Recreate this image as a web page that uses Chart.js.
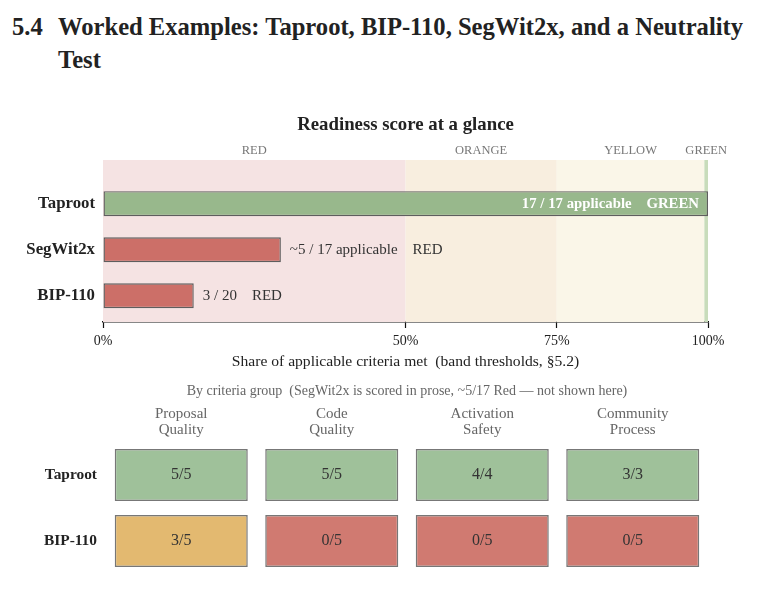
<!DOCTYPE html>
<html>
<head>
<meta charset="utf-8">
<script src="https://cdn.jsdelivr.net/npm/chart.js@4.4.1/dist/chart.umd.min.js"></script>
<style>
  body { margin:0; background:#fff; width:765px; height:598px; position:relative; overflow:hidden; font-family:"Liberation Serif", serif; color:#222; }
  .sec { position:absolute; left:12px; top:10px; font-size:24.6px; font-weight:bold; line-height:33px; }
  .head { position:absolute; left:58px; top:10px; width:705px; font-size:24.6px; font-weight:bold; line-height:33px; }
  #top { position:absolute; left:0; top:105px; }
  #grid { position:absolute; left:0; top:375px; }
</style>
</head>
<body>
<div class="sec">5.4</div>
<div class="head">Worked Examples: Taproot, BIP-110, SegWit2x, and a Neutrality Test</div>
<canvas id="top" width="765" height="266"></canvas>
<canvas id="grid" width="765" height="200"></canvas>
<script>
// Readiness bars
const proposals = ['Taproot', 'SegWit2x', 'BIP-110'];
const metShare = [1.0, 0.294, 0.15];
const barNotes = ['17 / 17 applicable', '~5 / 17 applicable', '3 / 20'];
const barBands = ['GREEN', 'RED', 'RED'];

// Band thresholds (share of criteria met)
const bandNames = ['RED', 'ORANGE', 'YELLOW', 'GREEN'];
const bandEdges = [0, 0.5, 0.75, 0.994, 1.0];
const bandFills = ['#f5e3e3', '#f8eedf', '#faf6e8', '#c8dcbb'];
const xTicks = [0, 0.5, 0.75, 1.0];

// Criteria-group grid
const groups = [['Proposal', 'Quality'], ['Code', 'Quality'], ['Activation', 'Safety'], ['Community', 'Process']];
const gridRows = ['Taproot', 'BIP-110'];
const gridMet = [[5, 5, 4, 3], [3, 0, 0, 0]];
const gridOf = [[5, 5, 4, 3], [5, 5, 5, 5]];

const FONT = '"Liberation Serif", serif';
const cellColor = {GREEN: '#9fc19a', ORANGE: '#e3b970', YELLOW: '#e8d98a', RED: '#d07a71'};

function bandOf(share) {
    let name = bandNames[0];
    bandNames.forEach((b, i) => { if (share >= bandEdges[i]) name = b; });
    return name;
}

function noPad(s) {
    s.paddingTop = 0; s.paddingBottom = 0; s.paddingLeft = 0; s.paddingRight = 0;
}

// titles centred over the plot area
function plotTitle(text, dy, font, color) {
    return {
        id: 'plotTitle',
        afterDraw(chart) {
            const {ctx, chartArea} = chart;
            ctx.save();
            ctx.font = font;
            ctx.fillStyle = color;
            ctx.textAlign = 'center';
            ctx.textBaseline = 'middle';
            ctx.fillText(text, (chartArea.left + chartArea.right) / 2, chartArea.top - dy);
            ctx.restore();
        }
    };
}

// background bands + band labels + bar notes
const bandPlugin = {
    id: 'bands',
    beforeDatasetsDraw(chart) {
        const {ctx, chartArea, scales} = chart;
        ctx.save();
        bandNames.forEach((b, i) => {
            let x0 = scales.x.getPixelForValue(bandEdges[i]);
            let x1 = scales.x.getPixelForValue(bandEdges[i + 1]);
            ctx.fillStyle = bandFills[i];
            ctx.fillRect(x0, chartArea.top, x1 - x0, chartArea.bottom - chartArea.top);
            ctx.fillStyle = '#777';
            ctx.font = '12.5px ' + FONT;
            ctx.textAlign = 'center';
            ctx.textBaseline = 'middle';
            ctx.fillText(b, (x0 + x1) / 2, chartArea.top - 9);
        });
        ctx.restore();
    },
    afterDatasetsDraw(chart) {
        const {ctx} = chart;
        const meta = chart.getDatasetMeta(0);
        ctx.save();
        ctx.textBaseline = 'middle';
        meta.data.forEach((bar, i) => {
            let text = barNotes[i] + '    ' + barBands[i];
            if (metShare[i] > 0.6) {
                ctx.font = 'bold 14.8px ' + FONT;
                ctx.fillStyle = '#fff';
                ctx.textAlign = 'right';
                ctx.fillText(text, bar.x - 9, bar.y);
            } else {
                ctx.font = '15px ' + FONT;
                ctx.fillStyle = '#333';
                ctx.textAlign = 'left';
                ctx.fillText(text, bar.x + 9, bar.y);
            }
        });
        ctx.restore();
    }
};

new Chart(document.getElementById('top'), {
    type: 'bar',
    data: {
        datasets: [{
            data: metShare.map((v, i) => ({x: v, y: i})),
            backgroundColor: metShare.map(v => bandOf(v) === 'GREEN' ? '#98b88c' : '#cc6f68'),
            borderColor: '#5e5e5e',
            borderWidth: 1.4,
            borderSkipped: false,
            inflateAmount: 0,
            barThickness: 25
        }]
    },
    options: {
        indexAxis: 'y',
        responsive: false,
        animation: false,
        layout: {padding: {right: 57, left: 0, top: 55, bottom: 0}},
        plugins: {
            legend: {display: false},
            tooltip: {enabled: false},
            title: {display: false}
        },
        scales: {
            x: {
                type: 'linear', min: 0, max: 1,
                afterBuildTicks: s => { s.ticks = xTicks.map(v => ({value: v})); },
                afterFit: s => { s.height = 49; noPad(s); },
                ticks: {
                    callback: v => Math.round(v * 100) + '%',
                    color: '#222', font: {family: FONT, size: 14}, padding: 4.5, maxRotation: 0
                },
                grid: {drawOnChartArea: false, drawTicks: true, tickLength: 6, color: '#111', tickWidth: 1.2},
                border: {display: true, color: '#111', width: 1.5},
                title: {
                    display: true,
                    text: 'Share of applicable criteria met  (band thresholds, §5.2)',
                    color: '#222', font: {family: FONT, size: 15.6}, padding: {top: 0, bottom: 0}
                }
            },
            y: {
                type: 'linear', reverse: true, min: -0.95, max: 2.57, offset: false,
                afterBuildTicks: s => { s.ticks = proposals.map((p, i) => ({value: i})); },
                afterFit: s => { s.width = 103; noPad(s); },
                ticks: {
                    callback: v => proposals[v],
                    color: '#222', font: {family: FONT, size: 16.8, weight: 'bold'}, padding: 8
                },
                grid: {display: false, drawTicks: false},
                border: {display: false}
            }
        }
    },
    plugins: [bandPlugin, plotTitle('Readiness score at a glance', 35, 'bold 18.8px ' + FONT, '#222')]
});

// grid of criteria groups
const cellPad = 0.106;
const cellLabels = {
    id: 'cellLabels',
    afterDatasetsDraw(chart) {
        const {ctx} = chart;
        ctx.save();
        ctx.font = '16px ' + FONT;
        ctx.fillStyle = '#333';
        ctx.textAlign = 'center';
        ctx.textBaseline = 'middle';
        gridRows.forEach((r, ri) => {
            chart.getDatasetMeta(ri).data.forEach((bar, ci) => {
                let c = bar.getCenterPoint();
                ctx.fillText(gridMet[ri][ci] + '/' + gridOf[ri][ci], c.x, c.y);
            });
        });
        ctx.restore();
    }
};

new Chart(document.getElementById('grid'), {
    type: 'bar',
    data: {
        labels: groups,
        datasets: gridRows.map((r, ri) => ({
            label: r,
            data: gridMet[ri].map(() => [ri + cellPad, ri + 1 - cellPad]),
            backgroundColor: gridMet[ri].map((m, ci) => cellColor[bandOf(m / gridOf[ri][ci])]),
            borderColor: '#777',
            borderWidth: 1.5,
            borderSkipped: false,
            inflateAmount: 0,
            grouped: false,
            categoryPercentage: 1,
            barPercentage: 0.884
        }))
    },
    options: {
        responsive: false,
        animation: false,
        layout: {padding: {right: 57, top: 27, bottom: 1}},
        plugins: {
            legend: {display: false},
            tooltip: {enabled: false},
            title: {display: false}
        },
        scales: {
            x: {
                position: 'top',
                afterFit: s => { s.height = 40; noPad(s); },
                ticks: {color: '#666', font: {family: FONT, size: 15, lineHeight: 1.07}, padding: 4, maxRotation: 0},
                grid: {display: false, drawTicks: false},
                border: {display: false}
            },
            y: {
                type: 'linear', reverse: true, min: 0, max: 2, offset: false,
                afterBuildTicks: s => { s.ticks = gridRows.map((r, i) => ({value: i + 0.5})); },
                afterFit: s => { s.width = 106; noPad(s); },
                ticks: {
                    callback: v => gridRows[Math.floor(v)],
                    color: '#222', font: {family: FONT, size: 15.4, weight: 'bold'}, padding: 9
                },
                grid: {display: false, drawTicks: false},
                border: {display: false}
            }
        }
    },
    plugins: [cellLabels, plotTitle('By criteria group  (SegWit2x is scored in prose, ~5/17 Red — not shown here)', 51, '14px ' + FONT, '#666')]
});
</script>
</body>
</html>
